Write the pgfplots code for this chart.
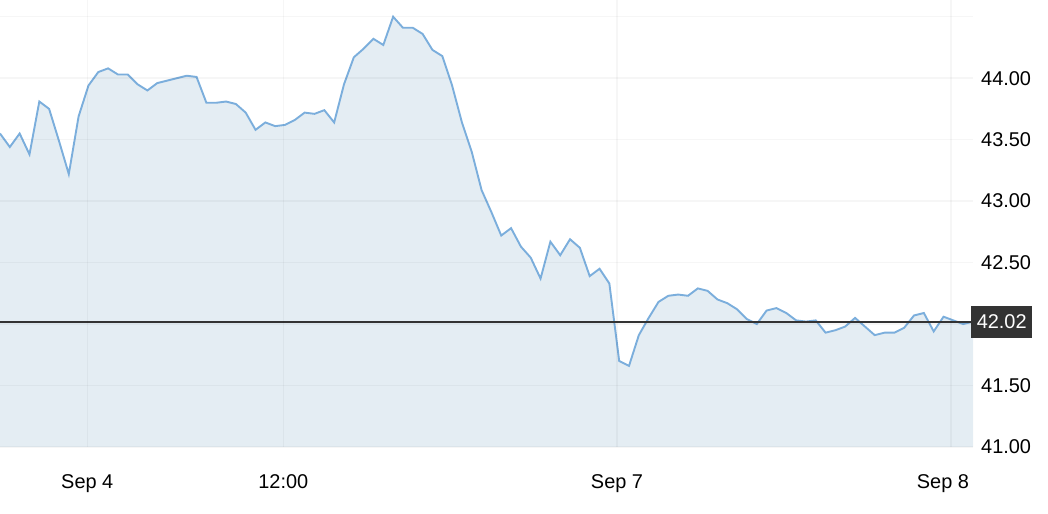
\documentclass[border=0pt]{standalone}
\usepackage{fontspec}
\setmainfont{Liberation Sans}
\usepackage{pgfplots}
\usepackage{pgfplotstable}
\pgfplotsset{compat=1.18}
\definecolor{linec}{HTML}{7BAEDC}
\definecolor{fillc}{HTML}{E4EDF3}
\definecolor{boxc}{HTML}{333333}
\pgfplotstableread{
i v
0 43.55
1 43.44
2 43.55
3 43.38
4 43.81
5 43.75
6 43.49
7 43.22
8 43.69
9 43.94
10 44.05
11 44.08
12 44.03
13 44.03
14 43.95
15 43.90
16 43.96
17 43.98
18 44.00
19 44.02
20 44.01
21 43.80
22 43.80
23 43.81
24 43.79
25 43.72
26 43.58
27 43.64
28 43.61
29 43.62
30 43.66
31 43.72
32 43.71
33 43.74
34 43.64
35 43.95
36 44.17
37 44.24
38 44.32
39 44.27
40 44.50
41 44.41
42 44.41
43 44.36
44 44.23
45 44.18
46 43.94
47 43.64
48 43.40
49 43.09
50 42.91
51 42.72
52 42.78
53 42.63
54 42.54
55 42.37
56 42.67
57 42.56
58 42.69
59 42.62
60 42.39
61 42.45
62 42.33
63 41.70
64 41.66
65 41.91
66 42.05
67 42.18
68 42.23
69 42.24
70 42.23
71 42.29
72 42.27
73 42.20
74 42.17
75 42.12
76 42.04
77 42.00
78 42.11
79 42.13
80 42.09
81 42.03
82 42.02
83 42.03
84 41.93
85 41.95
86 41.98
87 42.05
88 41.98
89 41.91
90 41.93
91 41.93
92 41.97
93 42.07
94 42.09
95 41.94
96 42.06
97 42.03
98 42.00
99 42.02
}\pricedata
\begin{document}
\begin{tikzpicture}
\path[use as bounding box] (0,-67bp) rectangle (1048bp,447bp);
\begin{axis}[
  at={(0,0)}, anchor=south west,
  width=973bp, height=447bp, scale only axis,
  xmin=0, xmax=99, ymin=41, ymax=44.636,
  axis on top,
  clip mode=individual,
  axis line style={draw=none},
  major tick length=0pt,
  xtick={8.88,28.83,62.78,96.76},
  xticklabels={Sep 4,12:00,Sep 7,\hspace*{-16bp}Sep 8},
  ytick={41,41.5,42,42.5,43,43.5,44,44.5},
  yticklabels={41.00,41.50,,42.50,43.00,43.50,44.00,},
  yticklabel pos=right,
  grid=major,
  major grid style={draw=black, opacity=0.035, line width=1.5bp},
  /pgf/number format/assume math mode=true,
  ticklabel style={font=\fontsize{20}{24}\selectfont, text=black},
  yticklabel style={anchor=west, inner sep=0pt, xshift=8bp},
  xticklabel style={anchor=base, inner sep=0pt, yshift=-41bp},
]
\addplot[fill=fillc, draw=none] table[x=i, y=v] {\pricedata} \closedcycle;
\addplot[linec, line width=1.9bp] table[x=i, y=v] {\pricedata};
\addplot[boxc, line width=1.9bp] coordinates {(0,42.02) (99,42.02)};
\node[fill=boxc, text=white, anchor=west, minimum width=61bp, minimum height=32bp, inner sep=0pt, font=\fontsize{20}{24}\selectfont, xshift=-2bp] at (axis cs:99,42.02) {42.02};
\end{axis}
\end{tikzpicture}
\end{document}
